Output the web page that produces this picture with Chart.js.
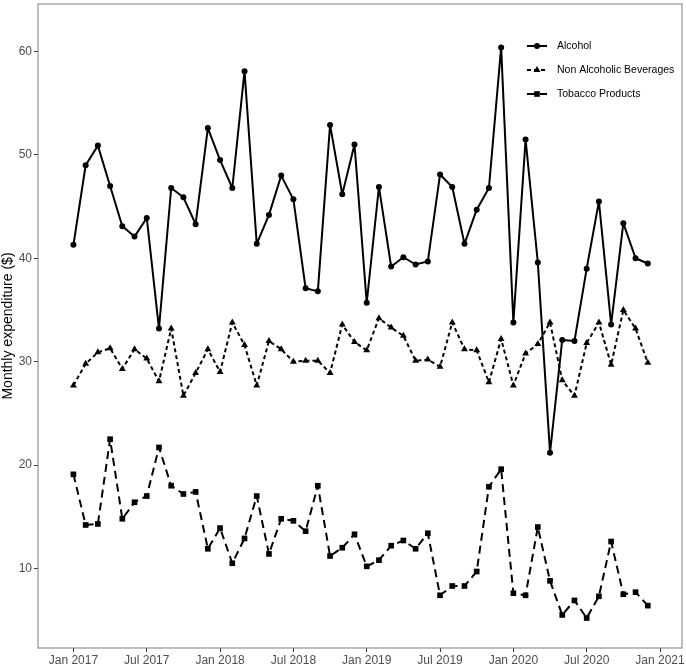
<!DOCTYPE html>
<html>
<head>
<meta charset="utf-8">
<script src="https://cdn.jsdelivr.net/npm/chart.js@4.4.1/dist/chart.umd.min.js"></script>
<style>
  html, body { margin: 0; padding: 0; background: #fff; }
  #chart { display: block; }
</style>
</head>
<body>
<canvas id="chart" width="686" height="665"></canvas>
<script>
// ==========================================================================
// DATA
// ==========================================================================
const months = [];
for (let yr = 2017; yr <= 2020; yr++) {
  for (let m = 1; m <= 12; m++) months.push(yr + '-' + String(m).padStart(2, '0'));
}

const alcohol = [
  41.3, 49.0, 50.9, 47.0, 43.1, 42.1, 43.9, 33.2, 46.8, 45.9, 43.3, 52.6,
  49.5, 46.8, 58.1, 41.4, 44.2, 48.0, 45.7, 37.1, 36.8, 52.9, 46.2, 51.0,
  35.7, 46.9, 39.2, 40.1, 39.4, 39.7, 48.1, 46.9, 41.4, 44.7, 46.8, 60.4,
  33.8, 51.5, 39.6, 21.2, 32.1, 32.0, 39.0, 45.5, 33.6, 43.4, 40.0, 39.5
];
const nonAlcoholic = [
  27.7, 29.8, 30.9, 31.3, 29.3, 31.2, 30.3, 28.1, 33.2, 26.7, 28.9, 31.2,
  29.0, 33.8, 31.6, 27.7, 32.0, 31.2, 30.0, 30.1, 30.1, 28.9, 33.6, 31.9,
  31.1, 34.2, 33.3, 32.5, 30.1, 30.2, 29.5, 33.8, 31.2, 31.1, 28.0, 32.2,
  27.7, 30.8, 31.7, 33.8, 28.2, 26.7, 31.8, 33.8, 29.7, 35.0, 33.2, 29.9
];
const tobacco = [
  19.1, 14.2, 14.3, 22.5, 14.8, 16.4, 17.0, 21.7, 18.0, 17.2, 17.4, 11.9,
  13.9, 10.5, 12.9, 17.0, 11.4, 14.8, 14.6, 13.6, 18.0, 11.2, 12.0, 13.3,
  10.2, 10.8, 12.2, 12.7, 11.9, 13.4, 7.4, 8.3, 8.3, 9.7, 17.9, 19.6,
  7.6, 7.4, 14.0, 8.8, 5.5, 6.9, 5.2, 7.3, 12.6, 7.5, 7.7, 6.4
];

const seriesNames = ['Alcohol', 'Non Alcoholic Beverages', 'Tobacco Products'];
const xTickIndex = [0, 6, 12, 18, 24, 30, 36, 42, 48];
const xTickLabels = ['Jan 2017', 'Jul 2017', 'Jan 2018', 'Jul 2018', 'Jan 2019',
                     'Jul 2019', 'Jan 2020', 'Jul 2020', 'Jan 2021'];
const yTicks = [10, 20, 30, 40, 50, 60];

// ==========================================================================
// CHART
// ==========================================================================
const FONT = "'Liberation Sans', Arial, sans-serif";

function toPoints(values) {
  return values.map((v, i) => ({ x: i, y: v }));
}

// box round the plot
const frame = {
  id: 'frame',
  afterDraw(chart) {
    const a = chart.chartArea;
    const c = chart.ctx;
    c.save();
    c.strokeStyle = '#7f7f7f';
    c.lineWidth = 1;
    c.strokeRect(a.left, a.top, a.right - a.left, a.bottom - a.top);
    c.restore();
  }
};

// legend inside the plot, line + marker like ggplot keys
const keyLegend = {
  id: 'keyLegend',
  afterDatasetsDraw(chart) {
    const a = chart.chartArea;
    const c = chart.ctx;
    const x0 = a.right - 155;
    chart.data.datasets.forEach((ds, i) => {
      const y = a.top + 42 + i * 24;
      c.save();
      c.strokeStyle = '#000';
      c.lineWidth = 2;
      c.setLineDash(ds.borderDash || []);
      c.beginPath();
      c.moveTo(x0, y);
      c.lineTo(x0 + 20, y);
      c.stroke();
      c.setLineDash([]);
      c.fillStyle = '#000';
      Chart.helpers.drawPoint(c, {
        pointStyle: ds.pointStyle,
        radius: ds.pointRadius,
        rotation: 0,
        borderWidth: 0
      }, x0 + 10, y);
      c.font = '10.5px ' + FONT;
      c.textBaseline = 'middle';
      c.fillText(ds.label, x0 + 30, y);
      c.restore();
    });
  }
};

const ctx = document.getElementById('chart').getContext('2d');
const myChart = new Chart(ctx, {
  type: 'line',
  data: {
    datasets: [
      {
        label: seriesNames[0],
        data: toPoints(alcohol),
        borderColor: '#000',
        borderWidth: 2,
        borderJoinStyle: 'round',
        pointStyle: 'circle',
        pointRadius: 3,
        pointBackgroundColor: '#000',
        pointBorderWidth: 0,
        tension: 0
      },
      {
        label: seriesNames[1],
        data: toPoints(nonAlcoholic),
        borderColor: '#000',
        borderWidth: 2,
        borderJoinStyle: 'round',
        borderDash: [4, 3],
        pointStyle: 'triangle',
        pointRadius: 4,
        pointBackgroundColor: '#000',
        pointBorderWidth: 0,
        tension: 0
      },
      {
        label: seriesNames[2],
        data: toPoints(tobacco),
        borderColor: '#000',
        borderWidth: 2,
        borderJoinStyle: 'round',
        borderDash: [8, 5],
        pointStyle: 'rect',
        pointRadius: 4,
        pointBackgroundColor: '#000',
        pointBorderWidth: 0,
        tension: 0
      }
    ]
  },
  options: {
    responsive: false,
    animation: false,
    devicePixelRatio: 1,
    layout: { padding: { top: 3, right: -2, left: 0, bottom: 0 } },
    plugins: {
      legend: { display: false },
      tooltip: { enabled: false }
    },
    scales: {
      x: {
        type: 'linear',
        min: -2.9,
        max: 49.8,
        afterBuildTicks(scale) {
          scale.ticks = xTickIndex.map(v => ({ value: v }));
        },
        afterFit(scale) {
          scale.height = 17;
          scale.paddingLeft = 0;
          scale.paddingRight = 0;
        },
        ticks: {
          autoSkip: false,
          maxRotation: 0,
          padding: 1,
          color: '#4d4d4d',
          font: { family: FONT, size: 12 },
          callback: (v) => xTickLabels[xTickIndex.indexOf(v)]
        },
        grid: { display: true, drawOnChartArea: false, drawTicks: true, tickLength: 4, color: '#333' },
        border: { display: false }
      },
      y: {
        min: 2.3,
        max: 64.6,
        afterBuildTicks(scale) {
          scale.ticks = yTicks.map(v => ({ value: v }));
        },
        afterFit(scale) {
          scale.width = 38;
          scale.paddingTop = 0;
          scale.paddingBottom = 0;
        },
        title: {
          display: true,
          text: 'Monthly expenditure ($)',
          color: '#000',
          font: { family: FONT, size: 14 },
          padding: { top: 0, bottom: 0 }
        },
        ticks: {
          padding: 2,
          color: '#4d4d4d',
          font: { family: FONT, size: 12 }
        },
        grid: { display: true, drawOnChartArea: false, drawTicks: true, tickLength: 4, color: '#333' },
        border: { display: false }
      }
    }
  },
  plugins: [frame, keyLegend]
});
</script>
</body>
</html>
